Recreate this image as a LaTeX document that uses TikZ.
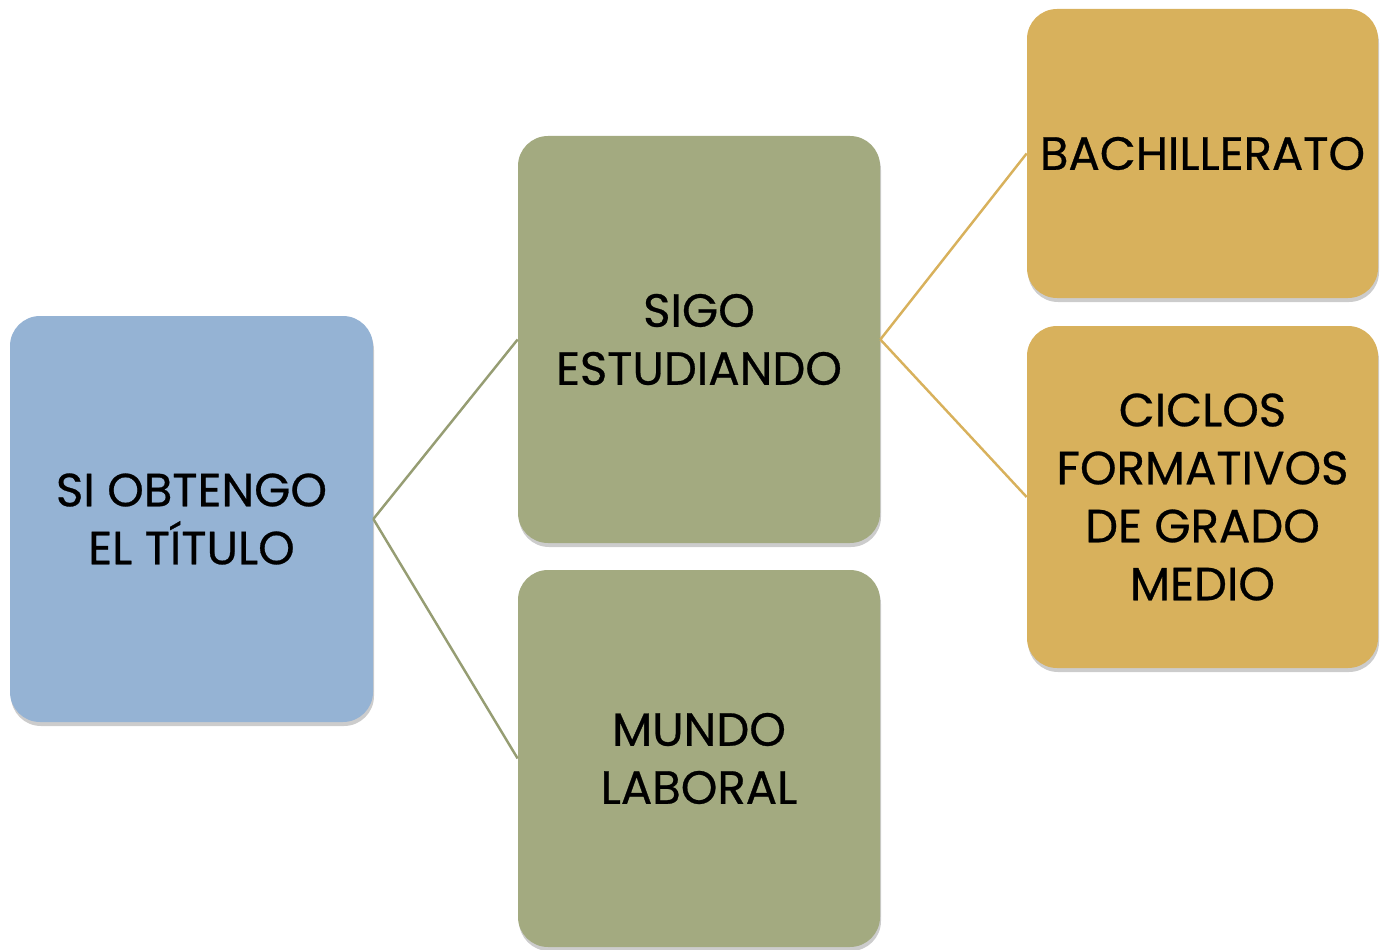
\documentclass[tikz,border=0pt]{standalone}
\usepackage{fontspec}
\setmainfont{Poppins}
\newfontfamily\boxfont{Poppins}[FakeBold=0.6]
\usetikzlibrary{shadows}
\definecolor{boxblue}{RGB}{149,179,212}
\definecolor{boxgreen}{RGB}{163,170,128}
\definecolor{boxgold}{RGB}{216,177,92}
\definecolor{linegreen}{RGB}{150,157,115}

\begin{document}
\begin{tikzpicture}[
        box/.style = {text=black, rounded corners=6mm, inner sep=0pt, align=center,
            font=\boxfont\fontsize{26.5}{33}\selectfont,
            drop shadow={shadow xshift=0.02cm, shadow yshift=-0.08cm, opacity=0.4}},
        blue/.style = {box, fill=boxblue, minimum width=7.26cm, minimum height=8.12cm},
        green/.style = {box, fill=boxgreen, minimum width=7.24cm},
        gold/.style = {box, fill=boxgold, minimum width=7.02cm},
        link/.style = {line width=1.4pt}]
    \useasboundingbox (0,0) rectangle (27.62,-19);

    \node[blue] (1) at (3.83,-10.38) {SI OBTENGO\\EL TÍTULO};
    \node[green, minimum height=8.14cm] (2) at (13.98,-6.79) {SIGO\\ESTUDIANDO};
    \node[green, minimum height=7.54cm] (3) at (13.98,-15.17) {MUNDO\\LABORAL};
    \node[gold, minimum height=5.78cm] (4) at (24.05,-3.07) {BACHILLERATO};
    \node[gold, minimum height=6.84cm] (5) at (24.05,-9.94) {CICLOS\\FORMATIVOS\\DE GRADO\\MEDIO};

    \draw[link, draw=linegreen] (1.east) -- (2.west);
    \draw[link, draw=linegreen] (1.east) -- (3.west);
    \draw[link, draw=boxgold] (2.east) -- (4.west);
    \draw[link, draw=boxgold] (2.east) -- (5.west);
\end{tikzpicture}
\end{document}
